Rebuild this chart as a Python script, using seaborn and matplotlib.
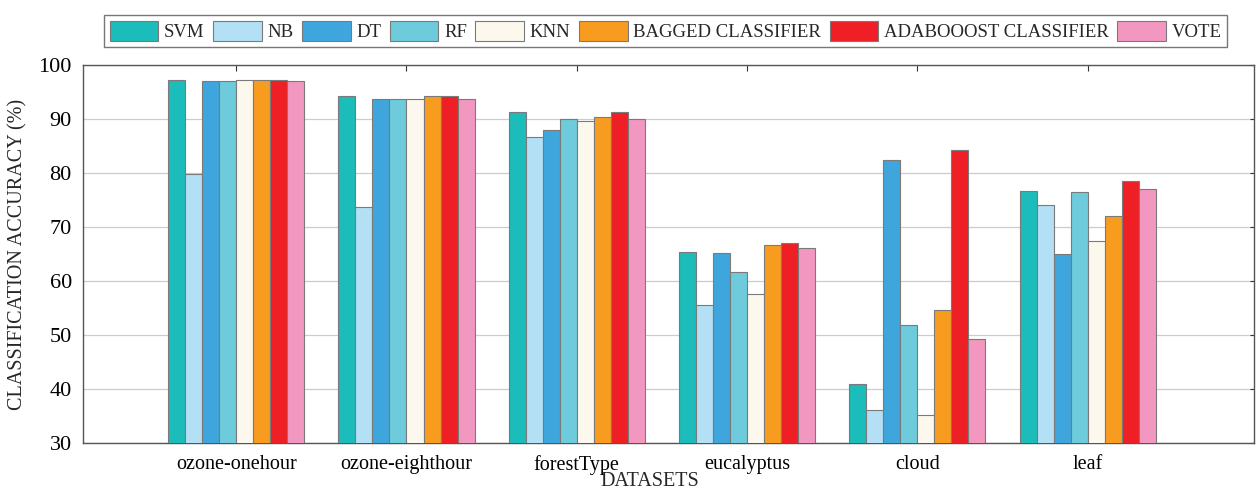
import pandas as pd
import seaborn as sns
import matplotlib.pyplot as plt

datasets = ["ozone-onehour", "ozone-eighthour", "forestType", "eucalyptus", "cloud", "leaf"]
classifiers = ["SVM", "NB", "DT", "RF", "KNN", "BAGGED CLASSIFIER", "ADABOOOST CLASSIFIER", "VOTE"]

svm = [97.3, 94.3, 91.4, 65.4, 40.9, 76.7]
nb = [79.8, 73.7, 86.6, 55.5, 36.1, 74.1]
dt = [97.1, 93.8, 87.9, 65.2, 82.4, 65.0]
rf = [97.1, 93.8, 90.1, 61.6, 51.8, 76.5]
knn = [97.3, 93.8, 89.6, 57.6, 35.2, 67.4]
bagged = [97.3, 94.3, 90.4, 66.7, 54.6, 72.1]
ada = [97.3, 94.3, 91.4, 67.1, 84.2, 78.5]
vote = [97.1, 93.8, 90.1, 66.1, 49.2, 77.1]

colors = ["#1bbcb9", "#b3e0f5", "#3ea6dc", "#6dcbdc", "#fdf8ee", "#f79c1f", "#ee2025", "#f297c0"]

series = [svm, nb, dt, rf, knn, bagged, ada, vote]
rows = []
for name, vals in zip(classifiers, series):
    for d, v in zip(datasets, vals):
        rows.append({"dataset": d, "classifier": name, "accuracy": v})
df = pd.DataFrame(rows)

sns.set_style("white")
plt.rcParams["font.family"] = ["Liberation Serif", "DejaVu Serif"]

fig = plt.figure(figsize=(12.57, 4.9), dpi=100)
ax = fig.add_axes([0.066, 0.096, 0.932, 0.771])

sns.barplot(data=df, x="dataset", y="accuracy", hue="classifier", order=datasets,
            hue_order=classifiers, palette=colors, saturation=1, width=0.8, gap=0,
            edgecolor="#7a7a7a", linewidth=0.8, ax=ax, zorder=3)

ax.set_ylim(30, 100)
ax.set_xlim(-0.9, 5.98)
ax.set_yticks(range(30, 101, 10))
ax.yaxis.grid(True, color="#cccccc", linewidth=0.9, zorder=0)
ax.set_axisbelow(True)
for s in ax.spines.values():
    s.set_color("#555555")
    s.set_linewidth(1.0)

ax.tick_params(axis="y", direction="in", length=3, labelsize=16, pad=8, right=True,
               colors="#333333", labelcolor="black")
ax.tick_params(axis="x", direction="in", length=4, labelsize=14.5, pad=9, top=True, bottom=False,
               colors="#333333", labelcolor="black")
ax.set_xlabel("DATASETS", fontsize=14.5)
ax.set_ylabel("CLASSIFICATION ACCURACY (%)", fontsize=14.5)
ax.xaxis.set_label_coords((650 - 83) / 1172, -0.077)
ax.yaxis.set_label_coords(-0.047, 0.5)

handles, labels = ax.get_legend_handles_labels()
ax.legend(handles, labels, ncol=8, loc="center", bbox_to_anchor=(0.4974, 1.0904),
          frameon=True, fancybox=False, edgecolor="#555555", fontsize=13.5,
          handlelength=2.6, handleheight=1.25, handletextpad=0.3, columnspacing=0.45,
          borderpad=0.3, borderaxespad=0)

plt.savefig("out.png", dpi=100)
